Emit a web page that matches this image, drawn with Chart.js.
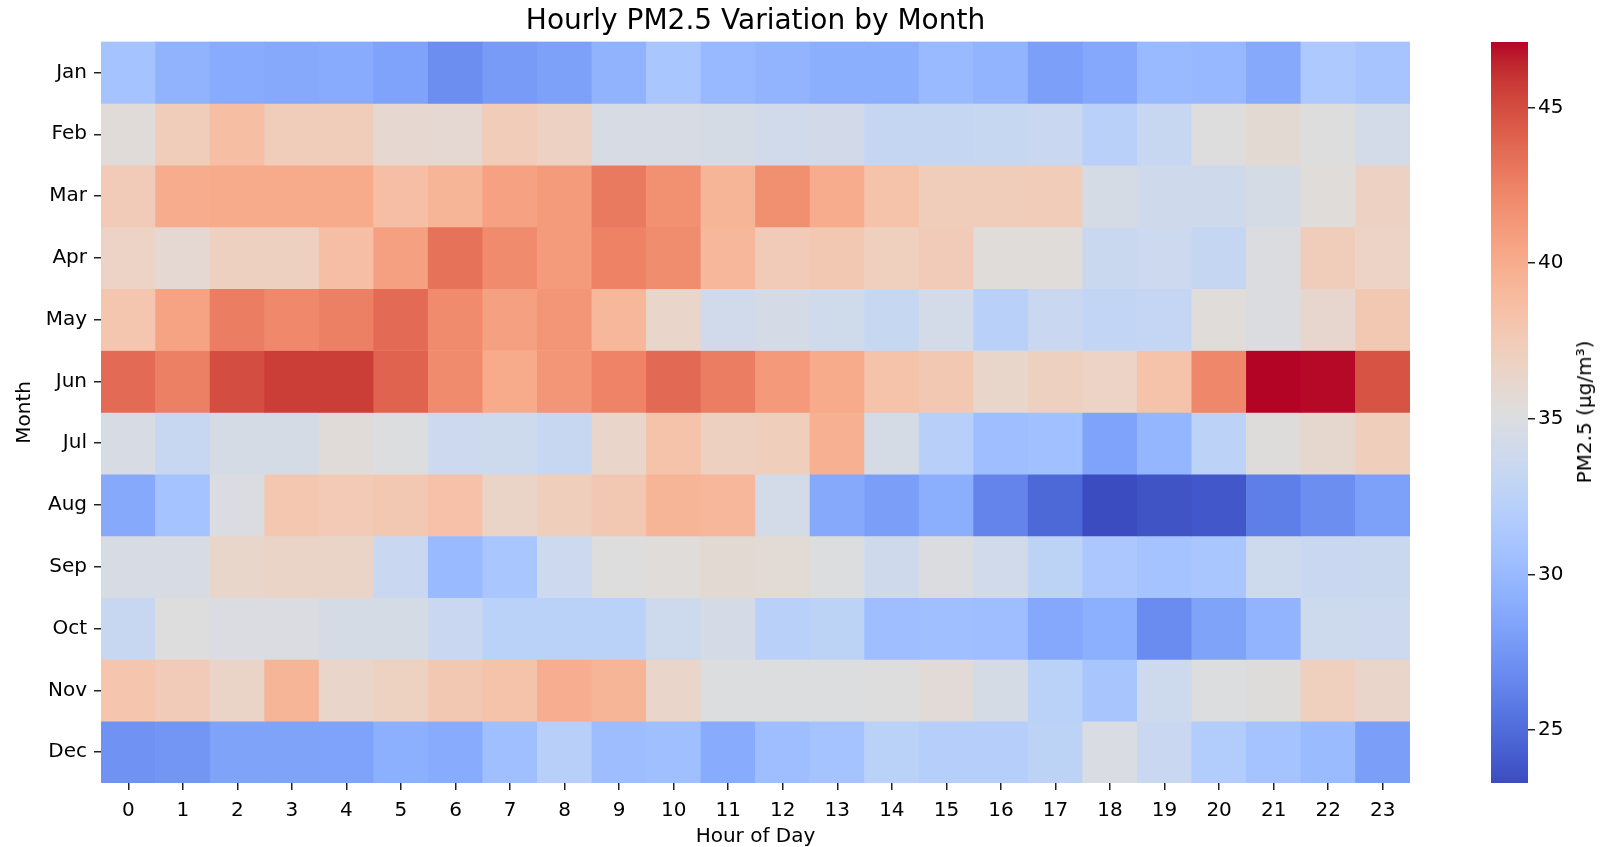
<!DOCTYPE html>
<html>
<head>
<meta charset="utf-8">
<script src="https://cdn.jsdelivr.net/npm/chart.js@4.4.1/dist/chart.umd.min.js"></script>
<style>
  html, body { margin: 0; padding: 0; background: #fff; }
  #wrap { position: relative; width: 1619px; height: 847px; }
  #heat { position: absolute; left: 0; top: 0; }
  #cbar { position: absolute; left: 1491px; top: 0; }
  #cbarLabel {
    position: absolute; left: 1584px; top: 412px;
    transform: translate(-50%, -50%) rotate(-90deg);
    font: 20px "DejaVu Sans", sans-serif; color: #000; white-space: nowrap;
  }
</style>
</head>
<body>
<div id="wrap">
  <canvas id="heat" width="1619" height="847"></canvas>
  <canvas id="cbar" width="128" height="847"></canvas>
  <div id="cbarLabel">PM2.5 (µg/m³)</div>
</div>
<script>
// datos
const hours = ['0','1','2','3','4','5','6','7','8','9','10','11','12','13','14','15','16','17','18','19','20','21','22','23'];
const months = ['Jan','Feb','Mar','Apr','May','Jun','Jul','Aug','Sep','Oct','Nov','Dec'];
const cbarTicks = [25, 30, 35, 40, 45];

const jan = [30.9,29.5,28.9,28.8,28.9,28.3,27.0,27.8,28.2,29.5,31.2,30.0,29.6,29.1,29.1,30.1,29.6,28.1,28.7,30.1,29.9,28.8,31.5,31.0];
const feb = [35.5,37.3,38.7,37.3,37.3,36.0,35.9,37.4,36.8,34.6,34.6,34.5,34.1,34.2,33.2,33.2,33.3,33.5,32.3,33.4,35.2,35.8,35.2,34.3];
const mar = [37.5,40.0,40.1,40.1,40.1,38.6,39.4,40.7,41.1,42.9,41.7,39.4,41.8,40.0,38.3,37.3,37.3,37.4,34.5,33.9,33.9,34.5,35.4,36.8];
const apr = [36.7,35.9,37.0,37.0,38.6,40.8,43.3,42.0,41.1,42.5,41.9,39.2,37.5,37.8,37.1,37.5,35.4,35.4,33.6,33.7,33.2,35.0,37.3,36.7];
const may = [38.0,40.6,42.7,42.1,42.6,43.6,42.0,40.8,41.4,39.2,36.4,34.1,34.4,34.0,33.3,34.3,32.3,33.5,33.0,33.1,35.4,35.0,36.2,37.8];
const jun = [43.6,42.6,45.0,45.6,45.6,44.0,42.0,40.1,41.4,42.4,43.7,42.7,41.2,40.1,38.3,37.8,36.3,37.0,36.7,38.3,42.2,47.1,47.0,44.7];
const jul = [34.6,33.4,34.5,34.5,35.5,35.1,33.7,33.8,33.4,36.4,38.3,37.0,37.2,39.7,34.5,32.2,30.4,30.6,28.3,29.7,32.5,35.3,36.1,37.2];
const aug = [28.8,30.8,34.9,37.9,37.6,37.8,38.4,36.5,37.2,37.8,39.4,39.2,34.3,28.8,28.0,29.1,26.4,24.8,23.3,23.7,23.9,26.1,27.0,28.2];
const sep = [34.6,34.6,36.3,36.5,36.5,33.5,30.1,31.2,33.7,35.2,35.4,35.8,35.7,35.1,33.9,35.0,34.1,32.6,31.3,30.9,31.2,33.8,33.5,33.6];
const oct = [33.4,35.2,34.9,34.9,34.5,34.5,33.5,32.4,32.4,32.4,33.8,34.4,32.3,32.6,30.4,30.5,30.4,28.7,29.2,26.9,28.4,29.6,33.8,33.7];
const nov = [38.1,37.5,36.5,39.4,36.4,36.9,37.8,38.3,39.9,39.4,36.4,35.1,35.1,35.1,35.2,35.6,34.5,32.4,31.1,33.8,35.1,35.3,37.1,36.4];
const dec = [27.3,27.5,28.4,28.4,28.3,29.2,28.9,30.5,32.2,30.3,30.5,28.9,30.4,30.9,32.4,32.1,32.1,32.6,34.8,33.5,31.8,30.9,30.2,28.0];

const rows = [jan, feb, mar, apr, may, jun, jul, aug, sep, oct, nov, dec];
const allVals = rows.flat();
const vmin = Math.min(...allVals);
const vmax = Math.max(...allVals);

// coolwarm (matplotlib), 33 puntos
const coolwarm = [
  [59,76,192],[68,90,204],[77,104,215],[87,117,225],[98,130,234],[108,142,241],[119,154,247],[130,165,251],
  [141,176,254],[152,185,255],[163,194,255],[174,201,253],[184,208,249],[194,213,244],[204,217,238],[213,219,230],
  [221,221,221],[229,216,209],[236,211,197],[241,204,184],[245,196,172],[247,187,159],[247,177,147],[247,166,134],
  [244,154,123],[241,141,111],[236,127,99],[229,112,88],[222,96,77],[213,80,66],[203,62,56],[192,40,47],[180,4,38]
];

function cmap(t) {
  t = Math.max(0, Math.min(1, t));
  const p = t * (coolwarm.length - 1);
  const i = Math.min(Math.floor(p), coolwarm.length - 2);
  const f = p - i;
  const a = coolwarm[i], b = coolwarm[i + 1];
  const c = a.map((v, k) => Math.round(v + (b[k] - v) * f));
  return `rgb(${c[0]},${c[1]},${c[2]})`;
}
const colorOf = v => cmap((v - vmin) / (vmax - vmin));

const font = { family: '"DejaVu Sans", sans-serif', size: 20 };
Chart.defaults.color = '#000';

// Heatmap: barras apiladas de altura 1, una serie por mes
new Chart(document.getElementById('heat'), {
  type: 'bar',
  data: {
    labels: hours,
    datasets: rows.map((vals, i) => ({
      label: months[i],
      data: hours.map(() => 1),
      values: vals,
      backgroundColor: vals.map(colorOf),
      borderWidth: 0,
      barPercentage: 1,
      categoryPercentage: 1
    }))
  },
  options: {
    responsive: false,
    animation: false,
    layout: { padding: { left: 0, right: 209, top: 0, bottom: 0 } },
    plugins: {
      legend: { display: false },
      title: {
        display: true,
        text: 'Hourly PM2.5 Variation by Month',
        fullSize: false,
        color: '#000',
        font: { family: '"DejaVu Sans", sans-serif', size: 28, weight: 'normal' },
        padding: { top: 5, bottom: 3 }
      },
      tooltip: {
        callbacks: {
          label: c => `${c.dataset.label} ${c.label}h: ${c.dataset.values[c.dataIndex]}`
        }
      }
    },
    scales: {
      x: {
        stacked: true,
        border: { display: false },
        grid: { display: true, offset: false, drawOnChartArea: false, drawTicks: true, tickLength: 7, tickColor: '#222', lineWidth: 1.5 },
        ticks: { font, padding: 9, maxRotation: 0, autoSkip: false },
        title: { display: true, text: 'Hour of Day', font: { ...font, lineHeight: 1 }, padding: { top: 0, bottom: 0 } },
        afterFit: s => { s.height = 64; }
      },
      y: {
        type: 'linear',
        stacked: true,
        reverse: true,
        min: 0,
        max: 12,
        border: { display: false },
        grid: { display: true, drawOnChartArea: false, drawTicks: true, tickLength: 7, tickColor: '#222', lineWidth: 1.5 },
        afterBuildTicks: s => { s.ticks = months.map((m, i) => ({ value: i + 0.5 })); },
        ticks: { font, padding: 7, callback: v => months[Math.floor(v)] },
        title: { display: true, text: 'Month', font, padding: { top: 13, bottom: 0 } },
        afterFit: s => { s.width = 101; }
      }
    }
  }
});

// Barra de color
new Chart(document.getElementById('cbar'), {
  type: 'bar',
  data: {
    labels: [''],
    datasets: [{
      data: [[vmin, vmax]],
      borderWidth: 0,
      barPercentage: 1,
      categoryPercentage: 1,
      backgroundColor: ctx => {
        const area = ctx.chart.chartArea;
        if (!area) return '#ddd';
        const g = ctx.chart.ctx.createLinearGradient(0, area.bottom, 0, area.top);
        coolwarm.forEach((c, i) => g.addColorStop(i / (coolwarm.length - 1), `rgb(${c[0]},${c[1]},${c[2]})`));
        return g;
      }
    }]
  },
  options: {
    responsive: false,
    animation: false,
    layout: { padding: { left: 0, right: 0, top: 42, bottom: 64 } },
    plugins: { legend: { display: false }, tooltip: { enabled: false } },
    scales: {
      x: { display: false },
      y: {
        position: 'right',
        min: vmin,
        max: vmax,
        border: { display: false },
        grid: { display: true, drawOnChartArea: false, drawTicks: true, tickLength: 7, tickColor: '#222', lineWidth: 1.5 },
        afterBuildTicks: s => { s.ticks = cbarTicks.map(v => ({ value: v })); },
        ticks: { font, padding: 3 },
        afterFit: s => { s.width = 91; }
      }
    }
  }
});
</script>
</body>
</html>
